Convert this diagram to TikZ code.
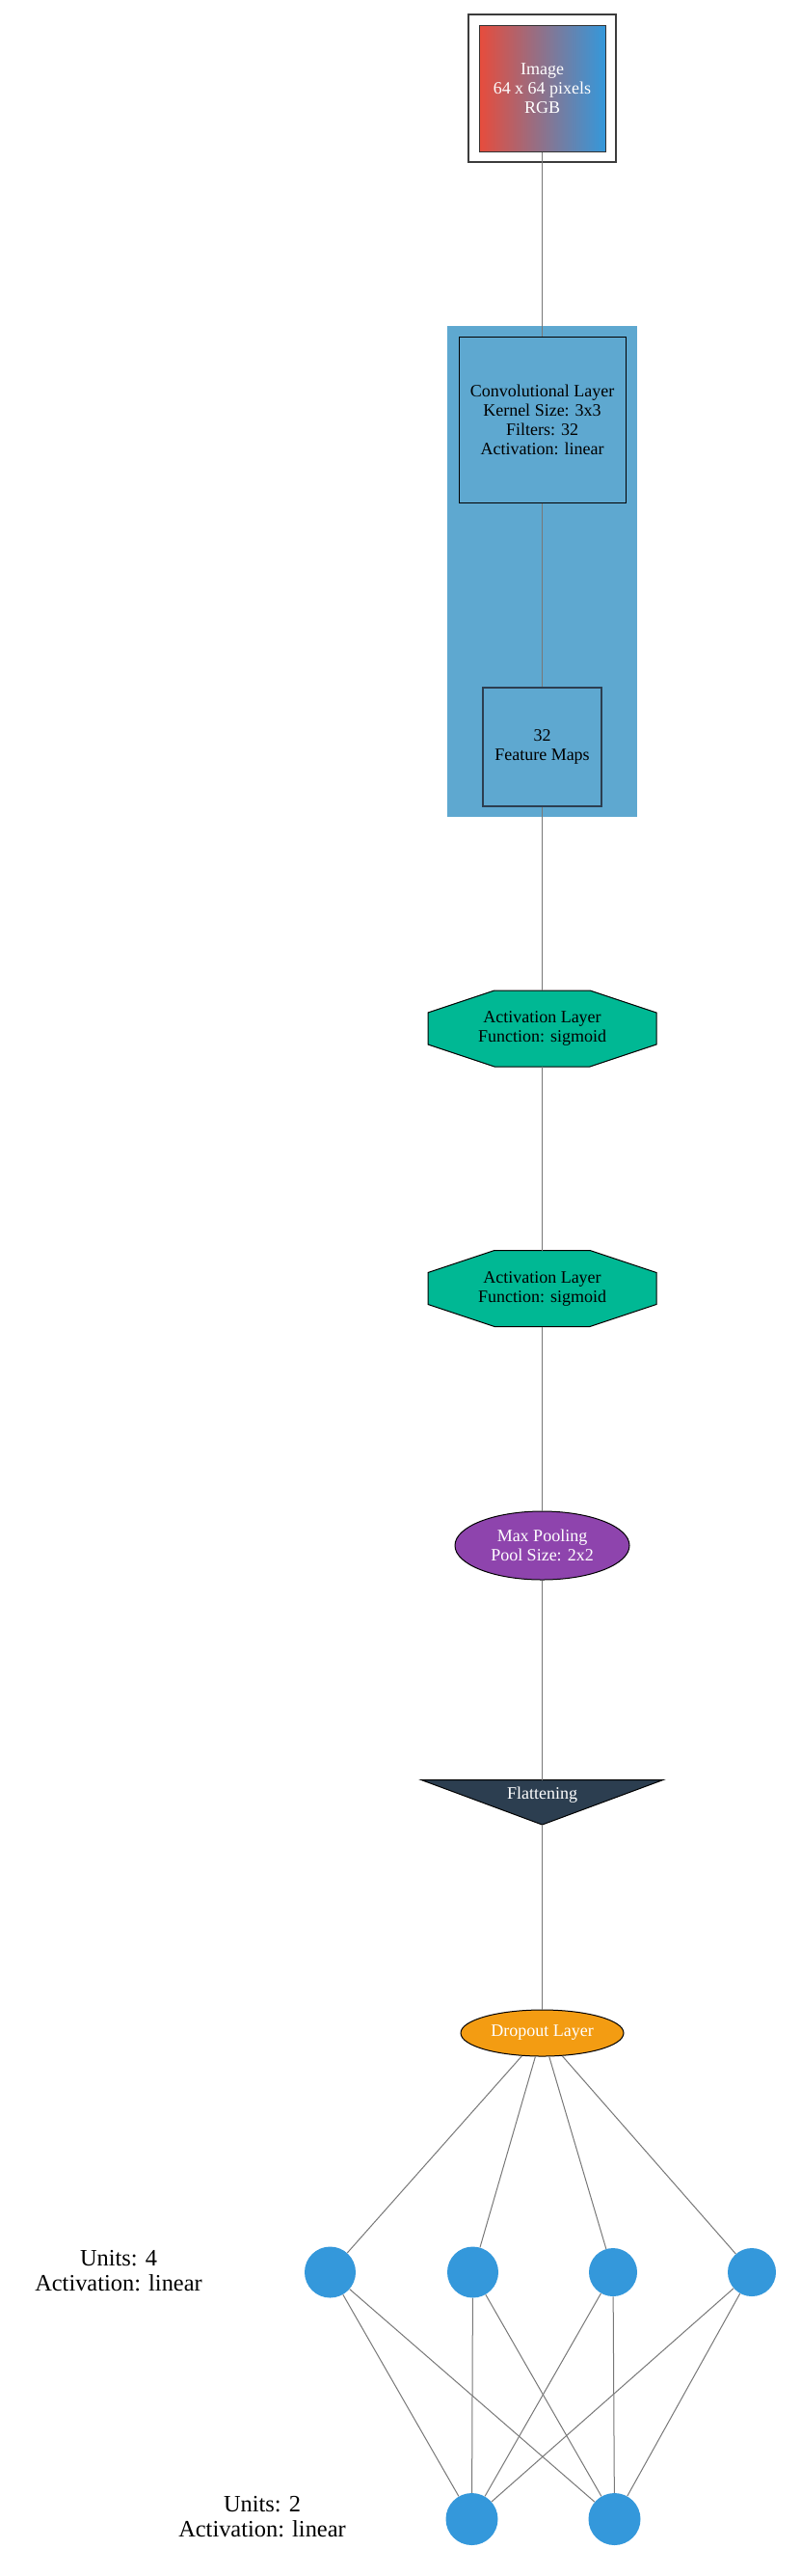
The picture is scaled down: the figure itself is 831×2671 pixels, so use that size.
\documentclass[tikz,border=0pt]{standalone}
\usepackage{fontspec}
\setmainfont{Liberation Serif}
\usetikzlibrary{shapes.geometric}
\definecolor{edgegray}{RGB}{120,120,120}
\definecolor{framegray}{RGB}{60,60,60}
\definecolor{imgred}{RGB}{231,76,60}
\definecolor{imgblue}{RGB}{52,152,219}
\definecolor{clusterblue}{RGB}{94,168,208}
\definecolor{fmborder}{RGB}{44,62,80}
\definecolor{actgreen}{RGB}{0,184,148}
\definecolor{poolpurple}{RGB}{142,68,173}
\definecolor{flatnavy}{RGB}{44,62,80}
\definecolor{dropoutorange}{RGB}{243,156,18}
\definecolor{unitblue}{RGB}{52,152,219}
\newcommand\octshape[2]{\filldraw[fill=actgreen, draw=black, line width=0.75pt]
  (#1-49.5,#2-39.5) -- (#1+49.5,#2-39.5) -- (#1+118.5,#2-16.5) -- (#1+118.5,#2+16.5)
  -- (#1+49.5,#2+39.5) -- (#1-49.5,#2+39.5) -- (#1-118.5,#2+16.5) -- (#1-118.5,#2-16.5) -- cycle;}
\begin{document}
\begin{tikzpicture}[x=0.75pt,y=-0.75pt,
  edge/.style={draw=edgegray, line width=0.75pt},
  lbl/.style={font=\fontsize{13.5}{15}\selectfont, align=center},
  biglbl/.style={font=\fontsize{18.3}{19.5}\selectfont, align=center},
  unit/.style={circle, fill=unitblue, inner sep=0pt},
  ghost/.style={inner sep=0pt, outer sep=0pt}]
\fill[white] (0,0) rectangle (831,2671);
\useasboundingbox (0,0) rectangle (831,2671);

% image
\node[draw=framegray, line width=1pt, minimum width=153*0.75pt, minimum height=153*0.75pt, ghost] (imgouter) at (562.5,91.5) {};
\node[draw=black!80, line width=0.75pt, left color=imgred, right color=imgblue, minimum width=131*0.75pt, minimum height=131*0.75pt, text=white, lbl, inner sep=0pt] (img) at (562.5,91.5) {Image\\64 x 64 pixels\\RGB};

% conv cluster
\node[fill=clusterblue, minimum width=197*0.75pt, minimum height=509*0.75pt, ghost] (convcluster) at (562.5,592.5) {};
\node[draw=black, line width=0.75pt, fill=clusterblue, minimum width=173*0.75pt, minimum height=172*0.75pt, lbl, inner sep=0pt] (conv) at (562.5,435) {Convolutional Layer\\Kernel Size: 3x3\\Filters: 32\\Activation: linear};
\node[draw=fmborder, line width=1.1pt, fill=clusterblue, minimum width=123*0.75pt, minimum height=123*0.75pt, lbl, inner sep=0pt] (fm) at (562.5,774.5) {32\\Feature Maps};

% activation layers
\octshape{562.5}{1066.5}
\node[minimum width=237*0.75pt, minimum height=79*0.75pt, lbl, ghost] (act1) at (562.5,1066.5) {Activation Layer\\Function: sigmoid};
\octshape{562.5}{1336}
\node[minimum width=237*0.75pt, minimum height=79*0.75pt, lbl, ghost] (act2) at (562.5,1336) {Activation Layer\\Function: sigmoid};

% max pooling
\node[ellipse, draw=black, line width=0.75pt, fill=poolpurple, text=white, minimum width=181*0.75pt, minimum height=71*0.75pt, lbl, inner sep=0pt] (pool) at (562.5,1602.5) {Max Pooling\\Pool Size: 2x2};

% flattening
\filldraw[fill=flatnavy, draw=black, line width=0.75pt] (437,1845.5) -- (688,1845.5) -- (562.5,1892) -- cycle;
\node[minimum width=251*0.75pt, minimum height=46.5*0.75pt, ghost] (flat) at (562.5,1868.75) {};
\node[lbl, text=white] (flattxt) at (562.5,1861) {Flattening};

% dropout
\node[ellipse, draw=black, line width=0.75pt, fill=dropoutorange, text=white, minimum width=169*0.75pt, minimum height=48*0.75pt, lbl, inner sep=0pt] (drop) at (562.5,2108) {Dropout Layer};

% dense units
\node[unit, minimum size=53*0.75pt] (u1) at (342.5,2356) {};
\node[unit, minimum size=53*0.75pt] (u2) at (490.5,2356) {};
\node[unit, minimum size=50*0.75pt] (u3) at (636,2356) {};
\node[unit, minimum size=50*0.75pt] (u4) at (780,2356) {};
\node[unit, minimum size=54*0.75pt] (o1) at (489.5,2612) {};
\node[unit, minimum size=54*0.75pt] (o2) at (637.5,2612) {};

\node[biglbl] (lab4) at (123,2355) {Units: 4\\Activation: linear};
\node[biglbl] (lab2) at (272,2610) {Units: 2\\Activation: linear};

% edges
\draw[edge] (img) -- (conv);
\draw[edge] (conv) -- (fm);
\draw[edge] (fm) -- (act1);
\draw[edge] (act1) -- (act2);
\draw[edge] (act2) -- (pool);
\draw[edge] (pool) -- (flat);
\draw[edge] (flat) -- (drop);
\foreach \u in {u1,u2,u3,u4}{
  \draw[edge] (drop) -- (\u);
  \draw[edge] (\u) -- (o1);
  \draw[edge] (\u) -- (o2);
}
\end{tikzpicture}
\end{document}
